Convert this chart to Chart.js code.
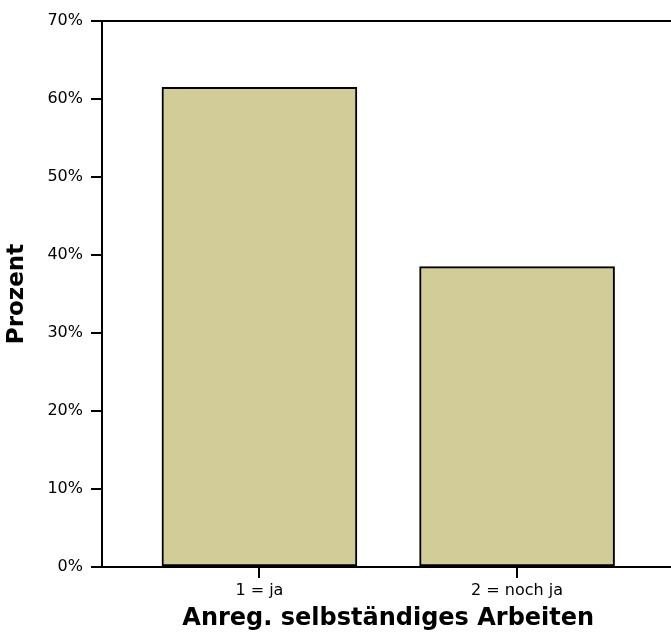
<!DOCTYPE html>
<html>
<head>
    <meta charset="utf-8">
    <title>Anreg. selbständiges Arbeiten</title>
    <script src="https://cdn.jsdelivr.net/npm/chart.js"></script>
    <style>
        html, body { margin: 0; padding: 0; overflow: hidden; background: #fff; }
        #wrap { width: 680px; height: 643px; }
    </style>
</head>
<body>
    <div id="wrap"><canvas id="balken"></canvas></div>

    <script>
        // Daten
        const kategorien = ['1 = ja', '2 = noch ja'];
        const prozent = [61.5, 38.5];
        const yTicks = [0, 10, 20, 30, 40, 50, 60, 70];

        const schrift = 'DejaVu Sans';

        // Rahmen um die Zeichenfläche (SPSS-Stil)
        const rahmen = {
            id: 'rahmen',
            afterDatasetsDraw(chart) {
                const a = chart.chartArea;
                const ctx = chart.ctx;
                ctx.save();
                ctx.strokeStyle = '#000';
                ctx.lineWidth = 2;
                ctx.strokeRect(a.left, a.top, a.right - a.left, a.bottom - a.top);
                ctx.restore();
            }
        };

        new Chart(document.getElementById('balken'), {
            type: 'bar',
            data: {
                datasets: [{
                    data: prozent.map((p, i) => ({ x: i + 1, y: p })),
                    backgroundColor: '#d2cd98',
                    borderColor: '#000',
                    borderWidth: 2,
                    borderSkipped: false,
                    barThickness: 195
                }]
            },
            options: {
                responsive: true,
                maintainAspectRatio: false,
                animation: false,
                layout: { padding: { top: 21, right: 5.5, bottom: 0, left: 0 } },
                plugins: { legend: { display: false }, tooltip: { enabled: false } },
                scales: {
                    x: {
                        type: 'linear',
                        offset: false,
                        min: 0.389,
                        max: 2.611,
                        afterBuildTicks: s => { s.ticks = kategorien.map((k, i) => ({ value: i + 1 })); },
                        afterFit: s => { s.height = 76; },
                        grid: { offset: false, drawOnChartArea: false, drawTicks: true, tickLength: 11, color: '#000', lineWidth: 2 },
                        border: { display: true, color: '#000', width: 2 },
                        ticks: {
                            padding: 3,
                            maxRotation: 0,
                            color: '#000',
                            font: { family: schrift, size: 16 },
                            callback: v => kategorien[v - 1]
                        },
                        title: {
                            display: true,
                            text: 'Anreg. selbständiges Arbeiten',
                            color: '#000',
                            font: { family: schrift, size: 24, weight: 'bold' },
                            padding: { top: 0, bottom: 10 }
                        }
                    },
                    y: {
                        min: 0,
                        max: 70,
                        afterBuildTicks: s => { s.ticks = yTicks.map(v => ({ value: v })); },
                        afterFit: s => { s.width = 102; },
                        grid: { drawOnChartArea: false, drawTicks: true, tickLength: 11, color: '#000', lineWidth: 2 },
                        border: { display: true, color: '#000', width: 2 },
                        ticks: {
                            padding: 8,
                            color: '#000',
                            font: { family: schrift, size: 16 },
                            callback: v => v + '%'
                        },
                        title: {
                            display: true,
                            text: 'Prozent',
                            color: '#000',
                            font: { family: schrift, size: 23, weight: 'bold' },
                            padding: { top: 3, bottom: 0 }
                        }
                    }
                }
            },
            plugins: [rahmen]
        });
    </script>
</body>
</html>
